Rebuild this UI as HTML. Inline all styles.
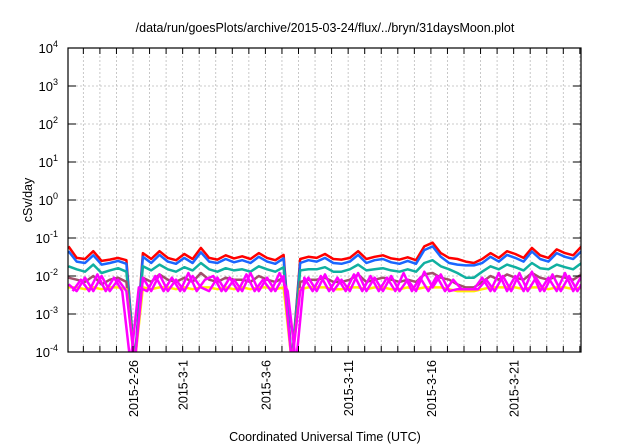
<!DOCTYPE html>
<html><head><meta charset="utf-8"><style>
body{margin:0;background:#fff;}
svg{display:block;font-family:"Liberation Sans",Helvetica,sans-serif;}
</style></head><body>
<svg id="chart" width="640" height="448">
<text x="325" y="32" font-size="12.5" text-anchor="middle">/data/run/goesPlots/archive/2015-03-24/flux/../bryn/31daysMoon.plot</text>
<g id="grid"></g><g id="series" clip-path="url(#clip)"></g><g id="axes"></g>
<defs><clipPath id="clip"><rect x="68" y="48" width="513" height="304"/></clipPath></defs>
<text x="325" y="441" font-size="12.5" text-anchor="middle">Coordinated Universal Time (UTC)</text>
<text transform="translate(32,200) rotate(-90)" font-size="12.5" text-anchor="middle">cSv/day</text>
</svg>
<script>
// values in units of 1e-3 cSv/day, sampled every 0.5 day from day 0.1 (days since 2015-02-22)
const tickLabels=["2015-2-26","2015-3-1","2015-3-6","2015-3-11","2015-3-16","2015-3-21"];
const tickDays=[4,7,12,17,22,27];
const yTickExp=[-4,-3,-2,-1,0,1,2,3,4];
const red=[60,30,28,45,25,27,30,26,0.05,40,28,45,30,26,38,28,55,30,27,35,29,33,28,40,30,26,36,0.05,28,32,30,38,28,27,30,45,28,32,35,29,27,31,26,60,75,40,30,28,24,22,28,40,30,45,38,30,55,35,30,50,40,35,60];
const blue=[45,24,22,35,20,22,25,21,0.05,32,22,36,24,21,30,22,42,24,22,28,23,26,22,32,24,21,29,0.05,22,26,24,30,22,21,24,36,22,26,28,23,21,25,21,48,60,32,22,20,19,19,22,32,24,36,30,24,44,28,24,40,32,28,45];
const teal=[18,15,13,20,12,14,16,13,0.05,18,14,20,15,13,17,14,22,15,13,16,14,15,13,18,15,13,17,0.05,14,15,15,17,13,13,15,20,14,15,16,14,13,15,13,22,26,18,15,12,9,9,13,18,15,20,17,14,22,16,15,20,17,15,22];
const brown=[9,8,7,10,6,8,9,7,0.05,9,7,11,8,7,9,7,12,8,7,9,8,8,7,10,8,7,9,0.05,7,8,8,9,7,7,8,11,7,8,9,8,7,8,7,11,12,9,8,6,5,5,7,10,8,11,9,8,12,9,8,10,9,8,11];
const magenta=[6,4,9,4,10,4,8,4,0.05,9,4,11,4,8,4,10,5,4,9,4,8,4,12,4,9,4,10,0.05,4,9,4,11,4,8,4,12,4,9,4,10,4,8,4,13,5,11,4,4.5,4.5,4.5,9,4,12,4,10,4,13,4,9,4,12,4,10];
const magenta2=[4,8,4,11,4,9,4,0.05,5,4,10,4,9,4,12,4,8,10,4,9,4,11,4,8,4,12,4,0.05,9,4,10,4,9,4,11,4,10,4,9,4,12,4,9,4,10,4,8,4.5,4.5,4.5,8,4,10,4,12,4,9,4,11,4,10,4,9];
const yellow=[5,5,4.5,5,4.5,5,5,4.5,0.05,5,4.5,5,5,4.5,5,4.5,5,5,4.5,5,4.5,5,4.5,5,5,4.5,5,0.05,4.5,5,5,5,4.5,4.5,5,5,4.5,5,5,4.5,4.5,5,4.5,5,5,5,4.5,4,4,4,4.5,5,5,5,5,4.5,5,5,4.5,5,5,4.5,5];
const L=68,R=581,T=48,B=352,ns="http://www.w3.org/2000/svg";
const x=d=>133+(d-4)*16.55;
const y=v=>B-(Math.log10(v)+4)*38;
function mk(tag,attrs,parent){const e=document.createElementNS(ns,tag);for(const k in attrs)e.setAttribute(k,attrs[k]);parent.appendChild(e);return e;}
const grid=document.getElementById('grid'),axes=document.getElementById('axes'),ser=document.getElementById('series');
for(let d=1;d<=31;d++){const px=x(d);if(px<=L||px>=R)continue;
 const g=mk('line',{x1:px,x2:px,y1:T,y2:B,stroke:'#bbb','stroke-dasharray':'2,2','stroke-width':0.8},grid);
 
 mk('line',{x1:px,x2:px,y1:B,y2:B-6,stroke:'#000'},axes);mk('line',{x1:px,x2:px,y1:T,y2:T+6,stroke:'#000'},axes);}
yTickExp.forEach(e=>{const py=y(Math.pow(10,e));
 if(e>-4&&e<4){const g=mk('line',{x1:L,x2:R,y1:py,y2:py,stroke:'#bbb','stroke-dasharray':'2,2','stroke-width':0.8},grid);
 }
 mk('line',{x1:L,x2:L+8,y1:py,y2:py,stroke:'#000'},axes);mk('line',{x1:R-8,x2:R,y1:py,y2:py,stroke:'#000'},axes);
 const t=mk('text',{x:L-10,y:py+5,'font-size':13,'text-anchor':'end'},axes);
 
 t.appendChild(document.createTextNode('10'));const s=mk('tspan',{dy:-6,'font-size':9},t);s.textContent=e;});
tickLabels.forEach((lab,i)=>{const px=x(tickDays[i]);
 const t=mk('text',{transform:`translate(${px+5},${B+8}) rotate(-90)`,'font-size':12.5,'text-anchor':'end'},axes);
 t.textContent=lab;});
const fr=mk('rect',{x:L,y:T,width:R-L,height:B-T,fill:'none',stroke:'#000','stroke-width':1.2},axes);

const series=[[red,'#ff0000','series-red',0.1],[blue,'#1a66ff','series-blue',0.1],[teal,'#10b0a0','series-teal',0.1],[brown,'#a0506a','series-brown',0.1],[yellow,'#ffee00','series-yellow',0.1],[magenta,'#ff00ff','series-magenta',0.1],[magenta2,'#ff00ff','series-magenta-b',0.35]];
series.forEach(([arr,col,name,t0])=>{const d=arr.map((v,i)=>(i?'L':'M')+x(t0+i*0.5).toFixed(1)+','+y(v*1e-3).toFixed(1)).join('');
 const p=mk('path',{d:d,fill:'none',stroke:col,'stroke-width':2.5,'stroke-linejoin':'round'},ser);
 });
</script>
</body></html>
